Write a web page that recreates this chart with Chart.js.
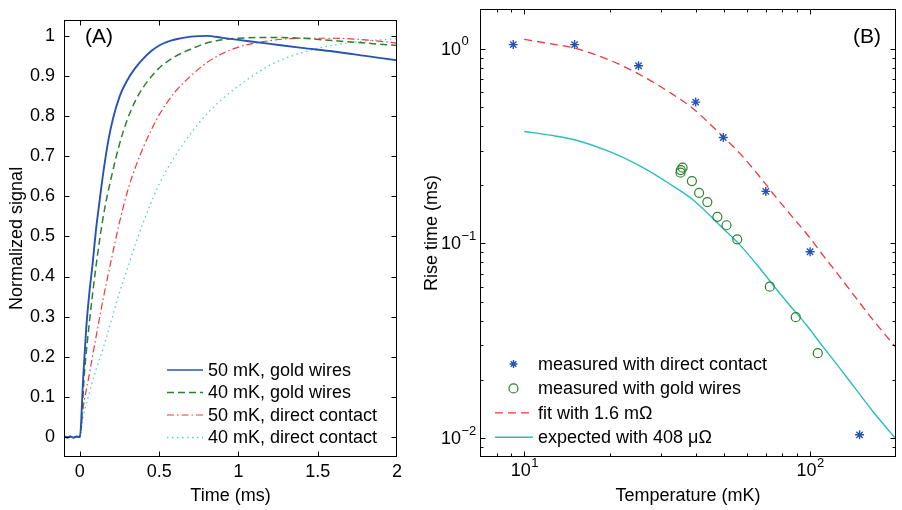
<!DOCTYPE html>
<html><head><meta charset="utf-8">
<script src="https://cdn.jsdelivr.net/npm/chart.js@4.4.0/dist/chart.umd.min.js"></script>
<style>
html,body{margin:0;padding:0;background:#fff;}
#wrap{position:relative;width:902px;height:510px;overflow:hidden;background:#fff;}
#c1{position:absolute;left:0;top:0;}
#c2{position:absolute;left:420px;top:0;}
</style></head><body>
<div id="wrap"><canvas id="c1" width="420" height="510"></canvas><canvas id="c2" width="482" height="510"></canvas></div>
<script>
const FONT = "'Liberation Sans', Arial, Helvetica, sans-serif";

// ---------- Panel A: normalized signal vs time ----------
const blueT = [-0.1, -0.08, -0.06, -0.04, -0.02, 0, 0.02, 0.04, 0.06, 0.08, 0.1, 0.12, 0.15, 0.18, 0.21, 0.25, 0.3, 0.35, 0.4, 0.45, 0.5, 0.55, 0.6, 0.7, 0.8, 0.9, 1.0, 1.2, 1.4, 1.6, 1.8, 2.0];
const blueV = [0.002, -0.002, 0.001, -0.002, 0.001, 0, 0.14, 0.27, 0.36, 0.43, 0.51, 0.575, 0.665, 0.74, 0.795, 0.848, 0.89, 0.92, 0.943, 0.962, 0.976, 0.985, 0.991, 0.998, 1.0, 0.995, 0.99, 0.98, 0.97, 0.961, 0.95, 0.939];
const greenT = [-0.1, -0.05, 0, 0.03, 0.06, 0.1, 0.15, 0.2, 0.25, 0.3, 0.35, 0.4, 0.45, 0.5, 0.6, 0.7, 0.8, 0.9, 1.0, 1.2, 1.4, 1.6, 1.8, 2.0];
const greenV = [0, 0.001, 0, 0.165, 0.285, 0.42, 0.555, 0.65, 0.73, 0.792, 0.838, 0.872, 0.898, 0.92, 0.948, 0.967, 0.982, 0.99, 0.994, 0.996, 0.994, 0.988, 0.982, 0.976];
const redT = [-0.1, -0.05, 0, 0.02, 0.06, 0.1, 0.15, 0.2, 0.25, 0.3, 0.35, 0.4, 0.45, 0.5, 0.6, 0.7, 0.8, 0.9, 1.0, 1.2, 1.4, 1.6, 1.8, 2.0];
const redV = [0, 0, 0, 0.07, 0.157, 0.245, 0.35, 0.445, 0.535, 0.612, 0.672, 0.722, 0.765, 0.803, 0.86, 0.9, 0.933, 0.956, 0.972, 0.988, 0.994, 0.994, 0.99, 0.982];
const cyanT = [-0.1, -0.05, 0, 0.02, 0.06, 0.1, 0.15, 0.2, 0.25, 0.3, 0.35, 0.4, 0.45, 0.5, 0.6, 0.7, 0.8, 0.9, 1.0, 1.2, 1.4, 1.6, 1.8, 2.0];
const cyanV = [0, 0, 0, 0.048, 0.11, 0.165, 0.225, 0.292, 0.36, 0.42, 0.48, 0.535, 0.585, 0.63, 0.7, 0.757, 0.805, 0.843, 0.875, 0.927, 0.958, 0.977, 0.987, 0.993];
const xTicksA = [0, 0.5, 1, 1.5, 2];
const xTickLabelsA = ['0', '0.5', '1', '1.5', '2'];
const yTicksA = [0, 0.1, 0.2, 0.3, 0.4, 0.5, 0.6, 0.7, 0.8, 0.9, 1];
const yTickLabelsA = ['0', '0.1', '0.2', '0.3', '0.4', '0.5', '0.6', '0.7', '0.8', '0.9', '1'];
const legendA = ['50 mK, gold wires', '40 mK, gold wires', '50 mK, direct contact', '40 mK, direct contact'];

// ---------- Panel B: rise time vs temperature ----------
const directT = [9.15, 15.0, 25.1, 39.8, 49.7, 70.0, 100, 149];
const directTau = [1.05, 1.05, 0.818, 0.532, 0.35, 0.185, 0.0906, 0.0104];
const goldT = [35.8, 35.3, 35.2, 38.6, 40.9, 43.7, 47.4, 51.0, 55.6, 72.3, 89.1, 106.4];
const goldTau = [0.245, 0.238, 0.231, 0.209, 0.182, 0.163, 0.137, 0.124, 0.105, 0.060, 0.0418, 0.0273];
const fitT = [10, 12.3, 15, 20, 25, 32.3, 39, 49.7, 56.8, 66.7, 74.3, 84.7, 97.1, 110.9, 127, 145.2, 166, 190, 200];
const fitTau = [1.117, 1.062, 1.007, 0.871, 0.745, 0.596, 0.492, 0.352, 0.290, 0.220, 0.180, 0.1426, 0.1125, 0.0871, 0.0675, 0.0522, 0.0405, 0.0319, 0.0292];
const expT = [10, 12.3, 15, 20, 25, 32.3, 39, 49.7, 56.8, 66.7, 74.3, 84.7, 97.1, 110.9, 127, 145.2, 166, 190, 200];
const expTau = [0.376, 0.360, 0.341, 0.295, 0.253, 0.202, 0.167, 0.119, 0.0983, 0.0746, 0.0610, 0.0483, 0.0381, 0.0295, 0.0229, 0.0177, 0.0137, 0.0108, 0.0099];
const xMajorB = [10, 100];
const xExpB = ['1', '2'];
const xMinorB = [7, 8, 9, 20, 30, 40, 50, 60, 70, 80, 90, 200];
const yMajorB = [0.01, 0.1, 1];
const yExpB = ['\u22122', '\u22121', '0'];
const yMinorB = [0.008, 0.009, 0.02, 0.03, 0.04, 0.05, 0.06, 0.07, 0.08, 0.09, 0.2, 0.3, 0.4, 0.5, 0.6, 0.7, 0.8, 0.9];
const legendB = ['measured with direct contact', 'measured with gold wires', 'fit with 1.6 m\u03A9', 'expected with 408 \u03BC\u03A9'];

// ---------- colours / styles ----------
const C_BLUE = 'rgb(38,84,178)';
const C_GREEN = 'rgb(45,128,45)';
const C_RED = 'rgb(240,55,55)';
const C_CYAN_DOT = 'rgb(80,205,205)';
const C_CYAN = 'rgb(40,190,190)';

function pts(xs, ys) { return xs.map((x, i) => ({x: x, y: ys[i]})); }

Chart.defaults.font.family = FONT;
Chart.defaults.color = '#000';

function drawStar(ctx, x, y, r) {
  ctx.beginPath();
  for (let k = 0; k < 4; k++) {
    const a = k * Math.PI / 4;
    ctx.moveTo(x - r * Math.cos(a), y - r * Math.sin(a));
    ctx.lineTo(x + r * Math.cos(a), y + r * Math.sin(a));
  }
  ctx.stroke();
}

const framePlugin = {
  id: 'frame',
  afterDraw(chart, args, o) {
    const ctx = chart.ctx, a = chart.chartArea, xs = chart.scales.x, ys = chart.scales.y;
    ctx.save();
    ctx.strokeStyle = '#000';
    ctx.lineWidth = 1;
    ctx.setLineDash([]);
    const L = Math.round(a.left) + 0.5, R = Math.round(a.right) - 0.5, T = Math.round(a.top) + 0.5, B = Math.round(a.bottom) - 0.5;
    ctx.strokeRect(L, T, R - L, B - T);
    ctx.beginPath();
    const tx = (vals, len) => vals.forEach(v => {
      const p = Math.round(xs.getPixelForValue(v)) + 0.5;
      if (p < L + 0.4 || p > R - 0.4) return;
      ctx.moveTo(p, B); ctx.lineTo(p, B - len); ctx.moveTo(p, T); ctx.lineTo(p, T + len);
    });
    const ty = (vals, len) => vals.forEach(v => {
      const p = Math.round(ys.getPixelForValue(v)) + 0.5;
      if (p < T + 0.4 || p > B - 0.4) return;
      ctx.moveTo(L, p); ctx.lineTo(L + len, p); ctx.moveTo(R, p); ctx.lineTo(R - len, p);
    });
    tx(o.xMajor, 5); tx(o.xMinor || [], 3); ty(o.yMajor, 5); ty(o.yMinor || [], 3);
    ctx.stroke();

    ctx.fillStyle = '#000';
    if (o.logLabels) {
      const base = '18px ' + FONT, sup = '13px ' + FONT;
      ctx.textBaseline = 'middle';
      o.xMajor.forEach((v, i) => {
        const p = xs.getPixelForValue(v);
        ctx.font = base; const w1 = ctx.measureText('10').width;
        ctx.font = sup; const w2 = ctx.measureText(o.xExp[i]).width;
        const s = p - (w1 + w2) / 2;
        ctx.font = base; ctx.textAlign = 'left'; ctx.fillText('10', s, a.bottom + 14);
        ctx.font = sup; ctx.fillText(o.xExp[i], s + w1 + 0.5, a.bottom + 6);
      });
      o.yMajor.forEach((v, i) => {
        const p = ys.getPixelForValue(v);
        const xr = a.left - 19;
        ctx.font = base; ctx.textAlign = 'right'; ctx.fillText('10', xr, p + 1);
        ctx.font = sup; ctx.textAlign = 'left'; ctx.fillText(o.yExp[i], xr + 0.5, p - 7);
      });
    }

    if (o.legend) {
      const lg = o.legend;
      ctx.font = '18px ' + FONT;
      ctx.textAlign = 'left';
      ctx.textBaseline = 'middle';
      lg.items.forEach((it, i) => {
        const y = lg.y0 + i * lg.dy;
        ctx.save();
        ctx.strokeStyle = it.color;
        ctx.lineWidth = it.width || 1.3;
        if (it.kind === 'line') {
          ctx.setLineDash(it.dash || []);
          ctx.beginPath(); ctx.moveTo(lg.x1, y); ctx.lineTo(lg.x2, y); ctx.stroke();
        } else if (it.kind === 'star') {
          drawStar(ctx, lg.xm, y, 4);
        } else if (it.kind === 'circle') {
          ctx.beginPath(); ctx.arc(lg.xm, y, 4.5, 0, Math.PI * 2); ctx.stroke();
        }
        ctx.restore();
        ctx.fillStyle = '#000';
        ctx.fillText(it.text, lg.xt, y + 1);
      });
    }
    if (o.panel) {
      ctx.font = '21px ' + FONT;
      ctx.textAlign = 'center';
      ctx.textBaseline = 'middle';
      ctx.fillText(o.panel.text, o.panel.x, o.panel.y);
    }
    ctx.restore();
  }
};

// ---------- Chart A ----------
new Chart(document.getElementById('c1'), {
  type: 'line',
  data: {
    datasets: [
      {label: legendA[0], data: pts(blueT, blueV), borderColor: C_BLUE, borderWidth: 1.9, pointRadius: 0, cubicInterpolationMode: 'monotone', fill: false, order: 1},
      {label: legendA[1], data: pts(greenT, greenV), borderColor: C_GREEN, borderWidth: 1.5, borderDash: [7, 4], pointRadius: 0, cubicInterpolationMode: 'monotone', fill: false, order: 2},
      {label: legendA[2], data: pts(redT, redV), borderColor: C_RED, borderWidth: 1.2, borderDash: [7, 3, 1.5, 3], pointRadius: 0, cubicInterpolationMode: 'monotone', fill: false, order: 3},
      {label: legendA[3], data: pts(cyanT, cyanV), borderColor: C_CYAN_DOT, borderWidth: 1.3, borderDash: [1.5, 3.5], pointRadius: 0, cubicInterpolationMode: 'monotone', fill: false, order: 4}
    ]
  },
  options: {
    responsive: false, animation: false, devicePixelRatio: 1, events: [],
    layout: {padding: {top: 10, right: 23, bottom: 0, left: 0}},
    plugins: {
      legend: {display: false}, tooltip: {enabled: false},
      frame: {
        xMajor: xTicksA, yMajor: yTicksA,
        legend: {x1: 167, x2: 203, xt: 208, y0: 370, dy: 22.5, items: [
          {kind: 'line', color: C_BLUE, width: 1.5, text: legendA[0]},
          {kind: 'line', color: C_GREEN, width: 1.5, dash: [7, 4], text: legendA[1]},
          {kind: 'line', color: C_RED, width: 1.2, dash: [7, 3, 1.5, 3], text: legendA[2]},
          {kind: 'line', color: C_CYAN_DOT, width: 1.3, dash: [1.5, 3.5], text: legendA[3]}
        ]},
        panel: {text: '(A)', x: 99, y: 37}
      }
    },
    scales: {
      x: {
        type: 'linear', min: -0.1, max: 2,
        afterBuildTicks: s => { s.ticks = xTicksA.map(v => ({value: v})); },
        afterFit: s => { s.height = 53; },
        grid: {display: false, drawTicks: false}, border: {display: false},
        ticks: {padding: 4, maxRotation: 0, autoSkip: false, font: {size: 18}, callback: (v, i) => xTickLabelsA[i]},
        title: {display: true, text: 'Time (ms)', font: {size: 18}, padding: {top: 0, bottom: 3}}
      },
      y: {
        type: 'linear', min: -0.05, max: 1.04,
        afterBuildTicks: s => { s.ticks = yTicksA.map(v => ({value: v})); },
        afterFit: s => { s.width = 64; },
        grid: {display: false, drawTicks: false}, border: {display: false},
        ticks: {padding: 9, autoSkip: false, font: {size: 18}, callback: (v, i) => yTickLabelsA[i]},
        title: {display: true, text: 'Normalized signal', font: {size: 18}, padding: {top: 6, bottom: 0}}
      }
    }
  },
  plugins: [framePlugin]
});

// ---------- Chart B ----------
new Chart(document.getElementById('c2'), {
  type: 'line',
  data: {
    datasets: [
      {label: legendB[0], data: pts(directT, directTau), showLine: false, pointStyle: 'star', pointRadius: 4.5, borderColor: C_BLUE, backgroundColor: C_BLUE, pointBorderWidth: 1.4, order: 1},
      {label: legendB[1], data: pts(goldT, goldTau), showLine: false, pointStyle: 'circle', pointRadius: 4.5, borderColor: C_GREEN, backgroundColor: 'rgba(0,0,0,0)', pointBorderWidth: 1.2, order: 2},
      {label: legendB[2], data: pts(fitT, fitTau), borderColor: C_RED, borderWidth: 1.3, borderDash: [8, 5], pointRadius: 0, cubicInterpolationMode: 'monotone', fill: false, order: 3},
      {label: legendB[3], data: pts(expT, expTau), borderColor: C_CYAN, borderWidth: 1.4, pointRadius: 0, cubicInterpolationMode: 'monotone', fill: false, order: 4}
    ]
  },
  options: {
    responsive: false, animation: false, devicePixelRatio: 1, events: [],
    layout: {padding: {top: 9, right: 5, bottom: 0, left: 0}},
    plugins: {
      legend: {display: false}, tooltip: {enabled: false},
      frame: {
        xMajor: xMajorB, xMinor: xMinorB, yMajor: yMajorB, yMinor: yMinorB,
        logLabels: true, xExp: xExpB, yExp: yExpB,
        legend: {x1: 75, x2: 113, xm: 93.5, xt: 118, y0: 364, dy: 24.4, items: [
          {kind: 'star', color: C_BLUE, width: 1.4, text: legendB[0]},
          {kind: 'circle', color: C_GREEN, width: 1.2, text: legendB[1]},
          {kind: 'line', color: C_RED, width: 1.3, dash: [8, 5], text: legendB[2]},
          {kind: 'line', color: C_CYAN, width: 1.4, text: legendB[3]}
        ]},
        panel: {text: '(B)', x: 447, y: 37}
      }
    },
    scales: {
      x: {
        type: 'logarithmic', min: 7, max: 200,
        afterBuildTicks: s => { s.ticks = xMajorB.map(v => ({value: v})); },
        afterFit: s => { s.height = 53; },
        grid: {display: false, drawTicks: false}, border: {display: false},
        ticks: {display: false},
        title: {display: true, text: 'Temperature (mK)', font: {size: 18}, padding: {top: 0, bottom: 3}}
      },
      y: {
        type: 'logarithmic', min: 0.008, max: 1.6,
        afterBuildTicks: s => { s.ticks = yMajorB.map(v => ({value: v})); },
        afterFit: s => { s.width = 60; },
        grid: {display: false, drawTicks: false}, border: {display: false},
        ticks: {display: false},
        title: {display: true, text: 'Rise time (ms)', font: {size: 18}, padding: {top: 1, bottom: 0}}
      }
    }
  },
  plugins: [framePlugin]
});
</script>
</body></html>
